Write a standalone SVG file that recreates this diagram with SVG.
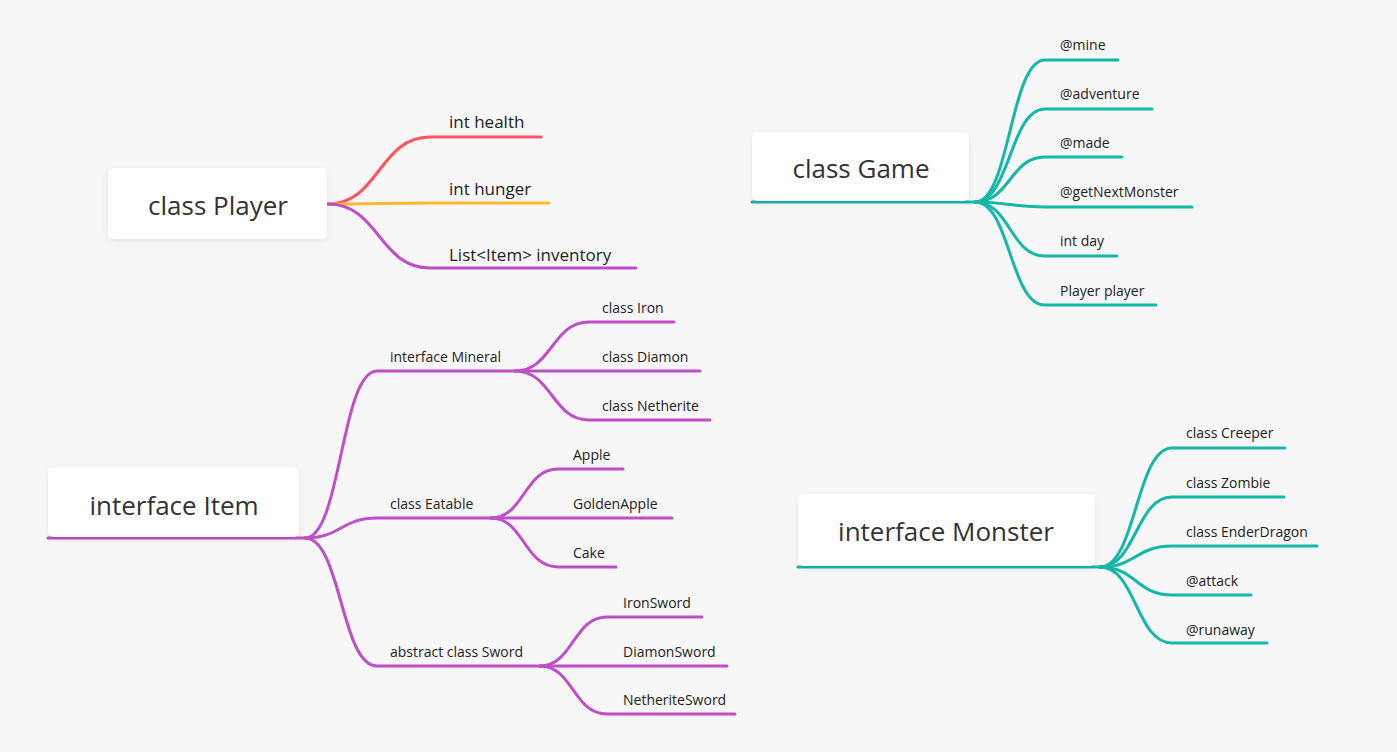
<svg xmlns="http://www.w3.org/2000/svg" width="1397" height="752" viewBox="0 0 1397 752">
<defs>
<filter id="sh" x="-10%" y="-20%" width="120%" height="150%">
<feDropShadow dx="0" dy="2" stdDeviation="3" flood-color="#000" flood-opacity="0.08"/>
</filter>
</defs>
<style>
.box{fill:#fff;filter:url(#sh)}
.main{font-family:"Open Sans","Noto Sans","Liberation Sans",sans-serif;font-size:26px;fill:#333;text-anchor:middle}
.sub{font-family:"Open Sans","Noto Sans","Liberation Sans",sans-serif;font-size:14px;fill:#222}
.big{font-size:17px}
.l{fill:none;stroke-width:3;stroke-linecap:round}
.t{stroke:#14b8a8}.p{stroke:#bf4ec8}.r{stroke:#fe5461}.o{stroke:#feb630}
</style>
<rect width="1397" height="752" fill="#f7f7f7"/>
<g id="connectors">
<path class="l r" d="M328,204 C379,204 379,137 430,137 H541"/>
<path class="l o" d="M328,204 C379,204 379,203 430,203 H549"/>
<path class="l p" d="M328,204 C379,204 379,268 430,268 H636"/>
<path class="l t" d="M752,202 H975"/>
<path class="l t" d="M975,202 C1010,202 1010,60 1045,60 H1118"/>
<path class="l t" d="M975,202 C1010,202 1010,109 1045,109 H1152"/>
<path class="l t" d="M975,202 C1010,202 1010,157 1045,157 H1122"/>
<path class="l t" d="M975,202 C1010,202 1010,207 1045,207 H1192"/>
<path class="l t" d="M975,202 C1010,202 1010,256 1045,256 H1117"/>
<path class="l t" d="M975,202 C1010,202 1010,305 1045,305 H1156"/>
<path class="l p" d="M48,538 H305"/>
<path class="l p" d="M305,538 C341,538 341,371 377,371 H515"/>
<path class="l p" d="M305,538 C341,538 341,518 377,518 H491"/>
<path class="l p" d="M305,538 C341,538 341,666 377,666 H540"/>
<path class="l p" d="M515,371 C552,371 552,322 589,322 H674"/>
<path class="l p" d="M515,371 C552,371 552,371 589,371 H700"/>
<path class="l p" d="M515,371 C552,371 552,420 589,420 H710"/>
<path class="l p" d="M491,518 C524,518 524,469 558,469 H623"/>
<path class="l p" d="M491,518 C524,518 524,518 558,518 H672"/>
<path class="l p" d="M491,518 C524,518 524,567 558,567 H616"/>
<path class="l p" d="M540,666 C573,666 573,617 607,617 H702"/>
<path class="l p" d="M540,666 C573,666 573,666 607,666 H727"/>
<path class="l p" d="M540,666 C573,666 573,714 607,714 H735"/>
<path class="l t" d="M798,567 H1100"/>
<path class="l t" d="M1100,567 C1136,567 1136,448 1172,448 H1285"/>
<path class="l t" d="M1100,567 C1136,567 1136,497 1172,497 H1284"/>
<path class="l t" d="M1100,567 C1136,567 1136,546 1172,546 H1317"/>
<path class="l t" d="M1100,567 C1136,567 1136,595 1172,595 H1251"/>
<path class="l t" d="M1100,567 C1136,567 1136,643 1172,643 H1267"/>
</g>
<g id="player">
<rect class="box" x="108" y="168" width="219" height="71" rx="6"/>
<text class="main" x="218" y="215">class Player</text>
</g>
<g id="player-children">
<text class="sub big" x="449" y="128">int health</text>
<text class="sub big" x="449" y="195">int hunger</text>
<text class="sub big" x="449" y="261">List&lt;Item&gt; inventory</text>
</g>
<g id="game">
<rect class="box" x="752" y="132" width="217" height="69" rx="6"/>
<text class="main" x="861" y="178">class Game</text>
</g>
<g id="game-children">
<text class="sub" x="1060" y="50">@mine</text>
<text class="sub" x="1060" y="99">@adventure</text>
<text class="sub" x="1060" y="148">@made</text>
<text class="sub" x="1060" y="197">@getNextMonster</text>
<text class="sub" x="1060" y="246">int day</text>
<text class="sub" x="1060" y="296">Player player</text>
</g>
<g id="item">
<rect class="box" x="48" y="467" width="251" height="70" rx="6"/>
<text class="main" x="174" y="515">interface Item</text>
</g>
<g id="item-children">
<text class="sub" x="390" y="362">interface Mineral</text>
<text class="sub" x="390" y="509">class Eatable</text>
<text class="sub" x="390" y="657">abstract class Sword</text>
<text class="sub" x="602" y="313">class Iron</text>
<text class="sub" x="602" y="362">class Diamon</text>
<text class="sub" x="602" y="411">class Netherite</text>
<text class="sub" x="573" y="460">Apple</text>
<text class="sub" x="573" y="509">GoldenApple</text>
<text class="sub" x="573" y="558">Cake</text>
<text class="sub" x="623" y="608">IronSword</text>
<text class="sub" x="623" y="657">DiamonSword</text>
<text class="sub" x="623" y="705">NetheriteSword</text>
</g>
<g id="monster">
<rect class="box" x="798" y="494" width="297" height="72" rx="6"/>
<text class="main" x="946" y="541">interface Monster</text>
</g>
<g id="monster-children">
<text class="sub" x="1186" y="438">class Creeper</text>
<text class="sub" x="1186" y="488">class Zombie</text>
<text class="sub" x="1186" y="537">class EnderDragon</text>
<text class="sub" x="1186" y="586">@attack</text>
<text class="sub" x="1186" y="635">@runaway</text>
</g>
</svg>
